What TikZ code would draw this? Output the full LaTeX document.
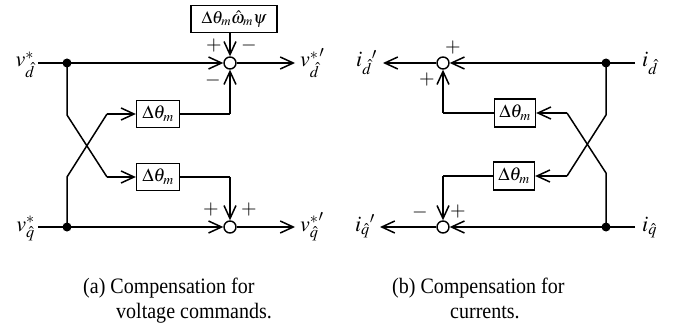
\documentclass[tikz,border=0pt]{standalone}
\usepackage{mathptmx}
\usepackage[no-math]{fontspec}
\setmainfont{Liberation Serif}
\newfontfamily\captfont[FakeStretch=0.91]{Liberation Serif}
\usetikzlibrary{arrows.meta}

\tikzset{
  sig/.style={line width=1.5pt},
  arr/.style={sig, -{Straight Barb[length=13pt,width=12pt]}},
  blk/.style={draw, line width=1.3pt, inner sep=0pt, minimum height=27pt,
              minimum width=43pt, font=\fontsize{18.5}{20}\selectfont},
  sumpt/.style={circle, draw, line width=1.4pt, minimum size=12pt, inner sep=0pt},
  junc/.style={circle, fill, minimum size=9pt, inner sep=0pt},
  lbl/.style={font=\fontsize{22}{24}\selectfont, inner sep=0pt},
  sgn/.style={font=\fontsize{20}{22}\selectfont, inner sep=0pt},
  capt/.style={font=\captfont\fontsize{22}{24}\selectfont, inner sep=0pt, anchor=base west},
}

\begin{document}
\begin{tikzpicture}[x=1pt, y=-1pt]
\useasboundingbox (0,0) rectangle (674,331);

% ---------- (a) voltage commands ----------
\coordinate (vdin) at (38,63);
\coordinate (vqin) at (38,227);
\node[junc] (jd) at (67,63) {};
\node[junc] (jq) at (67,227) {};
\node[sumpt] (sd) at (230,63) {};
\node[sumpt] (sq) at (230,227) {};
\coordinate (vdout) at (295,63);
\coordinate (vqout) at (295,227);

\node[blk, minimum width=86pt, font=\fontsize{17.5}{20}\selectfont] (kb) at (234,19) {$\Delta\theta_m\hat{\omega}_m\psi$};
\node[blk] (a1) at (158,114) {$\Delta\theta_m$};
\node[blk] (a2) at (158,177) {$\Delta\theta_m$};

\node[lbl, anchor=base east] (lvd) at (35,67) {$v^{*}_{\hat d}$};
\node[lbl, anchor=base east] (lvq) at (35,231) {$v^{*}_{\hat q}$};
\node[lbl, anchor=base west] (lvdo) at (300,67) {${v^{*}_{\hat d}}'$};
\node[lbl, anchor=base west] (lvqo) at (300,231) {${v^{*}_{\hat q}}'$};

\draw[arr] (vdin) -- (sd);
\draw[arr] (sd) -- (vdout);
\draw[arr] (vqin) -- (sq);
\draw[arr] (sq) -- (vqout);
\draw[arr] (kb.south -| sd) -- (sd);
\draw[sig] (jd.center) -- (67,115) -- (107,177) coordinate (a2in);
\draw[arr] (a2in) -- (a2.west);
\draw[sig] (jq.center) -- (67,177) -- (107,114) coordinate (a1in);
\draw[arr] (a1in) -- (a1.west);
\draw[sig] (a1.east) -- (a1.east -| sd) coordinate (a1out);
\draw[arr] (a1out) -- (sd);
\draw[sig] (a2.east) -- (a2.east -| sq) coordinate (a2out);
\draw[arr] (a2out) -- (sq);

\node[sgn] (s1) at (214,46) {$+$};
\node[sgn] (s2) at (249,46) {$-$};
\node[sgn] (s3) at (213,81) {$-$};
\node[sgn] (s4) at (211,210) {$+$};
\node[sgn] (s5) at (249,210) {$+$};

% ---------- (b) currents ----------
\coordinate (idin) at (635,63);
\coordinate (iqin) at (635,227);
\node[junc] (kd) at (606,63) {};
\node[junc] (kq) at (606,227) {};
\node[sumpt] (td) at (443,63) {};
\node[sumpt] (tq) at (443,227) {};
\coordinate (idout) at (383,63);
\coordinate (iqout) at (380,227);

\node[blk, minimum width=41pt, minimum height=28pt] (b1) at (515,113) {$\Delta\theta_m$};
\node[blk, minimum width=41pt, minimum height=28pt] (b2) at (514,176) {$\Delta\theta_m$};

\node[lbl, anchor=base west] (lid) at (642,67) {$i_{\hat d}$};
\node[lbl, anchor=base west] (liq) at (642,231) {$i_{\hat q}$};
\node[lbl, anchor=base east] (lido) at (377,67) {${i_{\hat d}}'$};
\node[lbl, anchor=base east] (liqo) at (375,231) {${i_{\hat q}}'$};

\draw[arr] (idin) -- (td);
\draw[arr] (td) -- (idout);
\draw[arr] (iqin) -- (tq);
\draw[arr] (tq) -- (iqout);
\draw[sig] (kd.center) -- (606,115) -- (567,176) coordinate (b2in);
\draw[arr] (b2in) -- (b2.east);
\draw[sig] (kq.center) -- (606,173) -- (567,113) coordinate (b1in);
\draw[arr] (b1in) -- (b1.east);
\draw[sig] (b1.west) -- (b1.west -| td) coordinate (b1out);
\draw[arr] (b1out) -- (td);
\draw[sig] (b2.west) -- (b2.west -| tq) coordinate (b2out);
\draw[arr] (b2out) -- (tq);

\node[sgn] (t1) at (453,48) {$+$};
\node[sgn] (t2) at (427,80) {$+$};
\node[sgn] (t3) at (420,212) {$-$};
\node[sgn] (t4) at (458,212) {$+$};

% ---------- captions ----------
\node[capt] (ca1) at (83,293) {(a) Compensation for};
\node[capt] (ca2) at (116,318) {voltage commands.};
\node[capt] (cb1) at (392,293) {(b) Compensation for};
\node[capt] (cb2) at (450,318) {currents.};
\end{tikzpicture}
\end{document}
